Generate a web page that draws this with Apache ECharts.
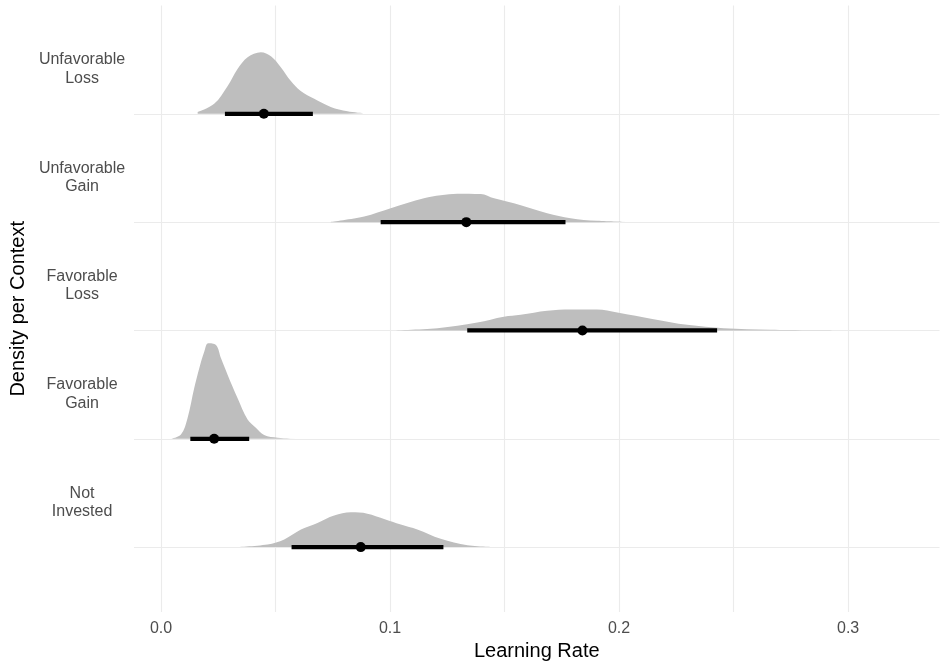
<!DOCTYPE html>
<html>
<head>
<meta charset="utf-8">
<script src="https://cdn.jsdelivr.net/npm/echarts@6/dist/echarts.min.js"></script>
<style>html,body{margin:0;padding:0;background:#fff}#c{width:945px;height:666px}</style>
</head>
<body>
<div id="c"></div>
<script>
// Categories, bottom to top (positions 1..5)
const categories = ['Not Invested', 'Favorable Gain', 'Favorable Loss', 'Unfavorable Gain', 'Unfavorable Loss'];
const categoryLabels = ['Not\nInvested', 'Favorable\nGain', 'Favorable\nLoss', 'Unfavorable\nGain', 'Unfavorable\nLoss'];
const xTicks = [0, 0.1, 0.2, 0.3];
const xGrid = [0, 0.05, 0.1, 0.15, 0.2, 0.25, 0.3];

// Point summaries (median) and 95% intervals
const medians = [0.0872, 0.0232, 0.1840, 0.1333, 0.0449];
const lower   = [0.0570, 0.0128, 0.1337, 0.0959, 0.0279];
const upper   = [0.1233, 0.0385, 0.2428, 0.1766, 0.0663];

// Density outlines (x, scaled height)
const notInvestedX = [0.032, 0.0465, 0.0538, 0.0611, 0.0683, 0.0756, 0.0829, 0.0901, 0.0974, 0.1047, 0.1119, 0.1221, 0.1338, 0.1483];
const notInvestedH = [0, 0.025, 0.071, 0.162, 0.223, 0.291, 0.321, 0.309, 0.26, 0.208, 0.162, 0.076, 0.018, 0];

const favGainX = [0.0044, 0.0087, 0.0116, 0.0145, 0.0167, 0.0189, 0.0206, 0.024, 0.0262, 0.0291, 0.0334, 0.0378, 0.0414, 0.045, 0.0509, 0.0596];
const favGainH = [0, 0.039, 0.193, 0.468, 0.651, 0.805, 0.881, 0.865, 0.743, 0.59, 0.376, 0.177, 0.101, 0.034, 0.009, 0.002];

const favLossX = [0.1003, 0.1207, 0.1381, 0.1497, 0.157, 0.1686, 0.1788, 0.1904, 0.1992, 0.2151, 0.2297, 0.2457, 0.266, 0.2951];
const favLossH = [0, 0.021, 0.073, 0.126, 0.144, 0.181, 0.193, 0.193, 0.165, 0.104, 0.052, 0.021, 0.006, 0];

const unfavGainX = [0.0741, 0.0887, 0.1003, 0.1148, 0.1221, 0.1294, 0.1396, 0.1454, 0.1541, 0.1686, 0.1788, 0.1904, 0.2035];
const unfavGainH = [0.002, 0.052, 0.128, 0.22, 0.248, 0.263, 0.26, 0.22, 0.174, 0.083, 0.037, 0.012, 0.003];

const unfavLossX = [0.016, 0.0232, 0.0291, 0.0334, 0.0378, 0.0436, 0.048, 0.0523, 0.0567, 0.061, 0.0669, 0.0741, 0.0814, 0.0885];
const unfavLossH = [0.016, 0.092, 0.257, 0.413, 0.523, 0.569, 0.532, 0.431, 0.303, 0.211, 0.138, 0.064, 0.023, 0.005];

const densX = [notInvestedX, favGainX, favLossX, unfavGainX, unfavLossX];
const densH = [notInvestedH, favGainH, favLossH, unfavGainH, unfavLossH];

const chart = echarts.init(document.getElementById('c'), null, {renderer: 'canvas'});
const FONT = '"Liberation Sans", Arial, Helvetica, sans-serif';

const gridLineStyle = {color: '#ebebeb', width: 1.1, type: 'solid'};

const series = [];
// Grid lines (behind everything)
series.push({
  type: 'scatter',
  data: [],
  z: 0,
  silent: true,
  markLine: {
    z: 0,
    silent: true,
    symbol: ['none', 'none'],
    label: {show: false},
    lineStyle: gridLineStyle,
    emphasis: {disabled: true},
    animation: false,
    data: xGrid.map(v => ({xAxis: v})).concat(categories.map((c, i) => ({yAxis: i + 1})))
  }
});
// Densities
categories.forEach((c, i) => {
  series.push({
    name: c,
    type: 'line',
    z: 2,
    smooth: 0.35,
    symbol: 'none',
    lineStyle: {width: 0},
    areaStyle: {color: '#bebebe', opacity: 1, origin: i + 1},
    data: densX[i].map((x, j) => [x, i + 1 + densH[i][j]]),
    silent: true
  });
});
// Intervals + medians
series.push({
  type: 'custom',
  z: 5,
  silent: true,
  data: categories.map((c, i) => [lower[i], upper[i], medians[i], i + 1]),
  renderItem: function (params, api) {
    const y = api.value(3);
    const p0 = api.coord([api.value(0), y]);
    const p1 = api.coord([api.value(1), y]);
    const pm = api.coord([api.value(2), y]);
    return {
      type: 'group',
      children: [
        {type: 'line', shape: {x1: p0[0], y1: p0[1], x2: p1[0], y2: p1[1]}, style: {stroke: '#000', lineWidth: 4.3}},
        {type: 'circle', shape: {cx: pm[0], cy: pm[1], r: 5}, style: {fill: '#000'}}
      ]
    };
  }
});

// Category label positions: drawn slightly above each baseline
const labelOffset = 0.413;

chart.setOption({
  animation: false,
  backgroundColor: '#ffffff',
  grid: {left: 133, right: 5.5, top: 5.5, bottom: 48, containLabel: false},
  xAxis: {
    type: 'value',
    min: -0.01178,
    max: 0.3399,
    name: 'Learning Rate',
    nameLocation: 'middle',
    nameGap: 26,
    nameTextStyle: {color: '#000', fontSize: 20, fontFamily: FONT},
    axisLine: {show: false},
    axisTick: {show: false},
    splitLine: {show: false},
    axisLabel: {
      customValues: xTicks,
      formatter: v => v.toFixed(1),
      color: '#4d4d4d', fontSize: 16, fontFamily: FONT, margin: 8
    }
  },
  yAxis: {
    type: 'value',
    min: 0.4,
    max: 6.0,
    name: 'Density per Context',
    nameLocation: 'middle',
    nameGap: 104,
    nameTextStyle: {color: '#000', fontSize: 20, fontFamily: FONT},
    axisLine: {show: false},
    axisTick: {show: false},
    splitLine: {show: false},
    axisLabel: {
      customValues: categories.map((c, i) => i + 1 + labelOffset),
      formatter: v => categoryLabels[Math.floor(v + 1e-6) - 1] || '',
      color: '#4d4d4d', fontSize: 16, fontFamily: FONT,
      align: 'center', verticalAlign: 'middle', lineHeight: 18.5,
      margin: 52
    }
  },
  series: series
});
</script>
</body>
</html>
